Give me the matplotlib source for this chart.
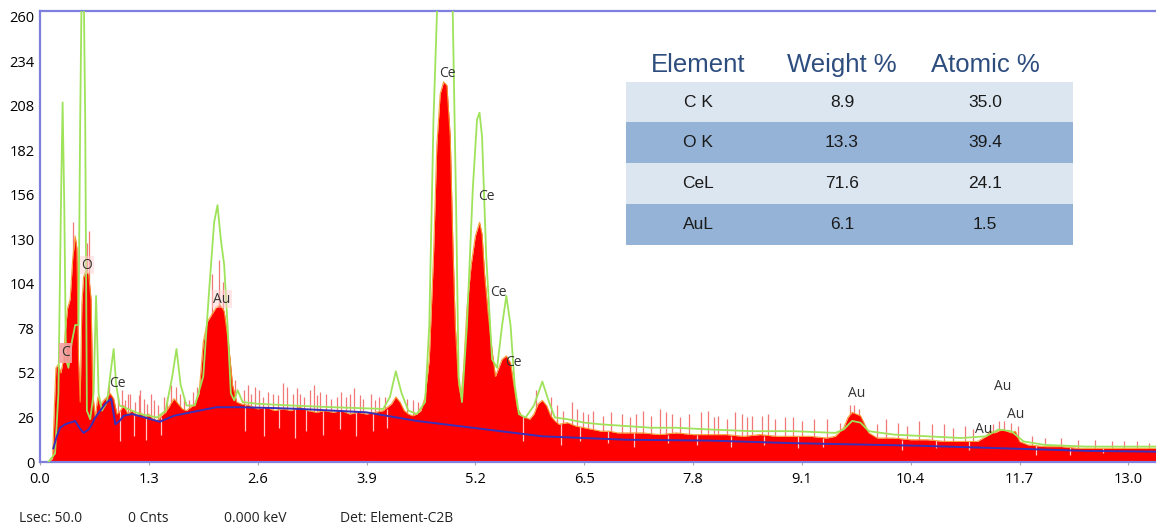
import matplotlib
matplotlib.use("Agg")
import matplotlib.pyplot as plt
from matplotlib.patches import Rectangle

# ---------------- data ----------------
# measured spectrum (keV, counts)
spec_keV = [0.10, 0.15, 0.17, 0.19, 0.22, 0.25, 0.28, 0.30, 0.33, 0.36, 0.39, 0.42, 0.44, 0.46, 0.48,
            0.50, 0.52, 0.55, 0.58, 0.61, 0.63, 0.66, 0.69, 0.72, 0.76, 0.80, 0.84, 0.88, 0.92, 0.96,
            1.00, 1.05, 1.10, 1.15, 1.20, 1.25, 1.30, 1.35, 1.40, 1.45, 1.50, 1.55, 1.60, 1.65, 1.70,
            1.75, 1.80, 1.85, 1.90, 1.95, 2.00, 2.05, 2.10, 2.15, 2.20, 2.25, 2.30, 2.35, 2.40, 2.50,
            2.60, 2.70, 2.80, 2.90, 3.00, 3.10, 3.20, 3.30, 3.40, 3.50, 3.60, 3.70, 3.80, 3.90, 4.00,
            4.10, 4.20, 4.25, 4.30, 4.35, 4.40, 4.45, 4.50, 4.55, 4.60, 4.65, 4.70, 4.74, 4.78, 4.82,
            4.86, 4.90, 4.93, 4.96, 5.00, 5.03, 5.06, 5.10, 5.15, 5.20, 5.25, 5.28, 5.31, 5.35, 5.40,
            5.44, 5.48, 5.52, 5.57, 5.62, 5.66, 5.70, 5.75, 5.80, 5.85, 5.90, 5.95, 6.00, 6.05, 6.10,
            6.15, 6.20, 6.30, 6.40, 6.50, 6.60, 6.70, 6.80, 6.90, 7.00, 7.20, 7.40, 7.60, 7.80, 8.00,
            8.20, 8.40, 8.60, 8.80, 9.00, 9.20, 9.40, 9.50, 9.60, 9.65, 9.70, 9.75, 9.80, 9.85, 9.90,
            10.00, 10.20, 10.40, 10.60, 10.80, 11.00, 11.20, 11.30, 11.35, 11.40, 11.45, 11.50, 11.55,
            11.60, 11.65, 11.70, 11.80, 12.00, 12.20, 12.40, 12.60, 12.80, 13.00, 13.20, 13.40]
spec_cnt = [0, 2, 30, 55, 57, 52, 60, 75, 90, 95, 118, 132, 125, 60, 35,
            92, 108, 112, 110, 95, 40, 26, 38, 33, 36, 38, 40, 37, 28, 30,
            33, 28, 30, 27, 29, 26, 28, 25, 24, 27, 29, 33, 37, 34, 31,
            30, 32, 34, 40, 70, 82, 86, 90, 92, 88, 70, 45, 35, 34, 33,
            31, 32, 30, 31, 30, 32, 30, 29, 30, 29, 30, 28, 29, 28, 29,
            30, 34, 38, 35, 30, 28, 27, 28, 30, 38, 60, 120, 185, 215, 222,
            220, 190, 130, 80, 45, 38, 55, 90, 115, 132, 140, 133, 110, 88, 65,
            50, 55, 60, 62, 58, 45, 32, 27, 26, 25, 28, 34, 36, 33, 27,
            24, 22, 23, 21, 20, 19, 18, 18, 17, 17, 17, 16, 17, 16, 16,
            16, 15, 16, 15, 15, 15, 14, 15, 20, 26, 29, 28, 27, 22, 17,
            14, 14, 13, 13, 12, 12, 12, 15, 18, 17, 18, 19, 18,
            17, 18, 12, 10, 9, 9, 8, 8, 8, 8, 8, 8]

# fitted spectrum (green)
fit_keV = [0.10, 0.18, 0.22, 0.25, 0.27, 0.29, 0.31, 0.34, 0.38, 0.42, 0.46, 0.48, 0.51, 0.54, 0.56,
           0.60, 0.64, 0.67, 0.70, 0.74, 0.80, 0.85, 0.88, 0.91, 0.95, 1.00, 1.10, 1.20, 1.30, 1.40,
           1.50, 1.58, 1.63, 1.68, 1.75, 1.85, 1.95, 2.02, 2.08, 2.12, 2.16, 2.20, 2.24, 2.28, 2.32,
           2.36, 2.42, 2.60, 3.00, 3.50, 4.10, 4.18, 4.25, 4.32, 4.40, 4.50, 4.60, 4.65, 4.70, 4.76,
           4.84, 4.92, 4.97, 5.00, 5.04, 5.10, 5.17, 5.22, 5.25, 5.28, 5.33, 5.40, 5.46, 5.52, 5.57,
           5.62, 5.67, 5.72, 5.80, 5.90, 6.00, 6.08, 6.15, 6.30, 6.50, 6.70, 7.00, 7.30, 7.60, 8.00,
           8.50, 9.00, 9.50, 9.60, 9.70, 9.80, 9.90, 10.20, 10.60, 11.00, 11.30, 11.45, 11.60, 11.75,
           12.00, 12.50, 13.00, 13.40]
fit_cnt = [0, 5, 40, 150, 210, 150, 60, 55, 70, 80, 80, 200, 330, 200, 30,
           25, 40, 97, 40, 30, 35, 55, 66, 45, 33, 32, 30, 28, 27, 26,
           30, 50, 66, 45, 33, 33, 50, 100, 140, 150, 130, 115, 80, 40, 36,
           42, 35, 34, 33, 32, 31, 38, 53, 40, 30, 28, 35, 80, 200, 290,
           320, 290, 150, 50, 35, 80, 160, 200, 204, 190, 120, 60, 55, 80, 97,
           80, 45, 28, 26, 33, 47, 35, 26, 25, 23, 22, 21, 20, 20, 19,
           18, 18, 17, 19, 24, 23, 18, 16, 15, 14, 15, 19, 18, 12,
           10, 9, 9, 9]

# background (blue)
bkg_keV = [0.16, 0.20, 0.24, 0.30, 0.36, 0.42, 0.47, 0.52, 0.58, 0.62, 0.66, 0.72, 0.78, 0.85, 0.90,
           0.95, 1.00, 1.10, 1.25, 1.43, 1.60, 1.75, 1.90, 2.11, 2.39, 2.80, 3.10, 3.50, 3.90, 4.50,
           5.00, 5.50, 6.00, 6.50, 7.00, 8.00, 9.00, 9.50, 10.50, 11.50, 12.50, 13.40]
bkg_cnt = [8, 15, 20, 22, 23, 24, 20, 17, 19, 22, 26, 30, 34, 37, 22,
           24, 27, 28, 26, 23.5, 27, 28.5, 30, 32, 32, 31.5, 31, 30, 29, 24,
           21, 18, 15, 14, 13, 12.5, 11, 10.5, 9.5, 8, 6.5, 6]

# noise spikes above the spectrum (keV, counts)
spike_keV = [0.40, 0.56, 0.58, 0.82, 0.93, 0.98, 1.02, 1.05, 1.08, 1.13, 1.18, 1.20, 1.24, 1.28,
             1.32, 1.36, 1.41, 1.48, 1.52, 1.57, 1.62, 1.67, 1.72, 1.78, 1.83, 1.88, 2.05, 2.14,
             2.18, 2.33, 2.44, 2.48, 2.52, 2.57, 2.62, 2.66, 2.72, 2.78, 2.84, 2.90, 2.95, 3.02,
             3.07, 3.10, 3.15, 3.22, 3.27, 3.31, 3.35, 3.42, 3.47, 3.55, 3.60, 3.66, 3.70, 3.75,
             3.82, 3.86, 3.95, 4.00, 4.05, 4.12, 4.38, 4.45, 4.52, 5.92, 6.10, 6.18, 6.25, 6.35,
             6.42, 6.48, 6.55, 6.60, 6.72, 6.82, 6.95, 7.05, 7.12, 7.20, 7.30, 7.40, 7.48, 7.55,
             7.65, 7.75, 7.90, 7.98, 8.05, 8.10, 8.20, 8.30, 8.38, 8.45, 8.50, 8.62, 8.70, 8.78,
             8.90, 9.00, 9.10, 9.25, 9.40, 9.55, 9.68, 9.72, 9.78, 10.00, 10.10, 10.25, 10.35,
             10.50, 10.65, 10.80, 10.90, 11.05, 11.15, 11.38, 11.45, 11.52, 11.60, 11.68, 11.85,
             12.00, 12.20, 12.40, 12.60, 12.80, 12.95, 13.10, 13.25]
spike_cnt = [140, 128, 135, 45, 38, 42, 36, 40, 40, 35, 39, 42, 37, 34,
             40, 36, 33, 38, 38, 45, 44, 40, 38, 36, 41, 44, 110, 118,
             105, 48, 42, 45, 40, 44, 42, 38, 41, 40, 39, 46, 44, 40,
             43, 40, 38, 42, 45, 39, 41, 40, 37, 38, 41, 38, 40, 43,
             39, 37, 40, 36, 38, 38, 37, 36, 35, 42, 38, 33, 30, 35,
             31, 29, 28, 30, 27, 29, 28, 26, 28, 30, 27, 31, 29, 28,
             26, 28, 29, 30, 26, 27, 25, 29, 28, 26, 27, 27, 28, 25,
             26, 26, 24, 25, 25, 23, 33, 33, 31, 22, 25, 23, 21,
             24, 22, 22, 20, 21, 19, 22, 24, 24, 23, 21, 15,
             14, 14, 13, 13, 12, 12, 12, 11]

# pale noise streaks inside the filled spectrum (keV, low, high)
dip_keV = [0.95, 1.12, 1.27, 1.44, 2.45, 2.68, 2.86, 3.05, 3.18, 3.38, 3.58, 3.78, 3.98, 4.15,
           5.77, 6.22, 6.45, 6.78, 7.10, 7.50, 7.85, 8.25, 8.65, 9.05, 9.35, 10.30, 10.70, 11.10,
           11.90, 12.30, 12.70]
dip_lo = [12, 15, 13, 16, 18, 15, 20, 14, 18, 16, 19, 15, 18, 20,
          12, 10, 12, 11, 9, 11, 10, 9, 10, 8, 9, 7, 8, 7,
          4, 4, 5]
dip_hi = [30, 30, 27, 26, 34, 32, 31, 31, 31, 30, 30, 29, 29, 31,
          27, 22, 21, 18, 17, 16, 16, 15, 15, 15, 14, 13, 13, 12,
          10, 9, 8]

# peak labels
peak_names = ["C", "O", "Ce", "Au", "Ce", "Ce", "Ce", "Ce", "Au", "Au", "Au", "Au"]
peak_keV = [0.31, 0.56, 0.92, 2.17, 4.87, 5.33, 5.48, 5.65, 9.76, 11.50, 11.65, 11.27]
peak_cnt = [63.7, 115, 46, 95, 227, 155, 99, 58, 40, 44, 28, 19]

# quantification table
tbl_header = ["Element", "Weight %", "Atomic %"]
tbl_elements = ["C K", "O K", "CeL", "AuL"]
tbl_weight = ["8.9", "13.3", "71.6", "6.1"]
tbl_atomic = ["35.0", "39.4", "24.1", "1.5"]

x_ticks = [0.0, 1.3, 2.6, 3.9, 5.2, 6.5, 7.8, 9.1, 10.4, 11.7, 13.0]
y_ticks = [0, 26, 52, 78, 104, 130, 156, 182, 208, 234, 260]
status = ["Lsec: 50.0", "0 Cnts", "0.000 keV", "Det: Element-C2B"]

# ---------------- drawing ----------------
W, H = 1156, 528
fig = plt.figure(figsize=(W / 100, H / 100), dpi=100)
fig.patch.set_facecolor("white")
ax = fig.add_axes([40 / W, 1 - 462 / H, 1 - 40 / W, (462 - 11) / H])
ax.set_xlim(0, 13.33)
ax.set_ylim(0, 263.4)

ax.vlines(spike_keV, [0] * len(spike_keV), spike_cnt, colors="#f27878", lw=0.9, zorder=1.9)
ax.fill_between(spec_keV, spec_cnt, 0, color="#ff0000", lw=0, zorder=2)
ax.vlines(dip_keV, dip_lo, dip_hi, colors="#ffc4c4", lw=0.9, zorder=2.2)
ax.plot(spec_keV, spec_cnt, color="#f39a2a", lw=0.8, alpha=0.9, zorder=3)
ax.plot(fit_keV, fit_cnt, color="#9fe35a", lw=1.3, zorder=4)
ax.plot(bkg_keV, bkg_cnt, color="#3a2fb8", lw=1.4, zorder=5)

for name, e, c in zip(peak_names, peak_keV, peak_cnt):
    bb = None
    if name == "C":
        bb = dict(boxstyle="square,pad=0.15", fc="#f4a0a0", ec="none", alpha=0.9)
    elif name in ("O", "Au") and e < 3:
        bb = dict(boxstyle="square,pad=0.1", fc="#ffd0d0", ec="none", alpha=0.5)
    ax.text(e, c, name, ha="center", va="center", fontsize=10, color="#333333",
            family="Open Sans", zorder=6, bbox=bb)

ax.spines["right"].set_visible(False)
for s in ("left", "top", "bottom"):
    ax.spines[s].set_color("#7f7fe0")
    ax.spines[s].set_linewidth(1.6)

ax.set_xticks(x_ticks)
ax.set_xticklabels([f"{t:.1f}" for t in x_ticks], family="Open Sans", fontsize=10.5)
ax.set_yticks(y_ticks)
ax.set_yticklabels([str(t) for t in y_ticks], family="Open Sans", fontsize=10.5)
ax.tick_params(axis="x", length=2, color="#aaaaaa", pad=5)
ax.tick_params(axis="y", length=0, pad=4)

# table (figure pixel coordinates)
def fx(px):
    return px / W

def fy(py):
    return 1 - py / H

row_tops = [82, 122, 163, 204]
row_h = 41
row_colors = ["#dce6f1", "#95b3d7", "#dce6f1", "#95b3d7"]
col_x = [698, 842, 985]
for i, top in enumerate(row_tops):
    fig.patches.append(Rectangle((fx(626), fy(top + row_h)), fx(1073) - fx(626), row_h / H,
                                 transform=fig.transFigure, facecolor=row_colors[i],
                                 edgecolor="none", zorder=10))
    yc = fy(top + row_h / 2)
    for xc, val in zip(col_x, [tbl_elements[i], tbl_weight[i], tbl_atomic[i]]):
        fig.text(fx(xc), yc, val, ha="center", va="center", fontsize=12.5,
                 family="Liberation Sans", color="#1a1a1a", zorder=11)
for xc, h in zip(col_x, tbl_header):
    fig.text(fx(xc), fy(65), h, ha="center", va="center", fontsize=18.5,
             family="Liberation Sans", color="#2e4d7f", zorder=11)

# status line
for px, s in zip([19, 128, 224, 340], status):
    fig.text(fx(px), fy(518), s, ha="left", va="center", fontsize=10,
             family="Open Sans", color="#222222")

fig.savefig("out.png", dpi=100)
